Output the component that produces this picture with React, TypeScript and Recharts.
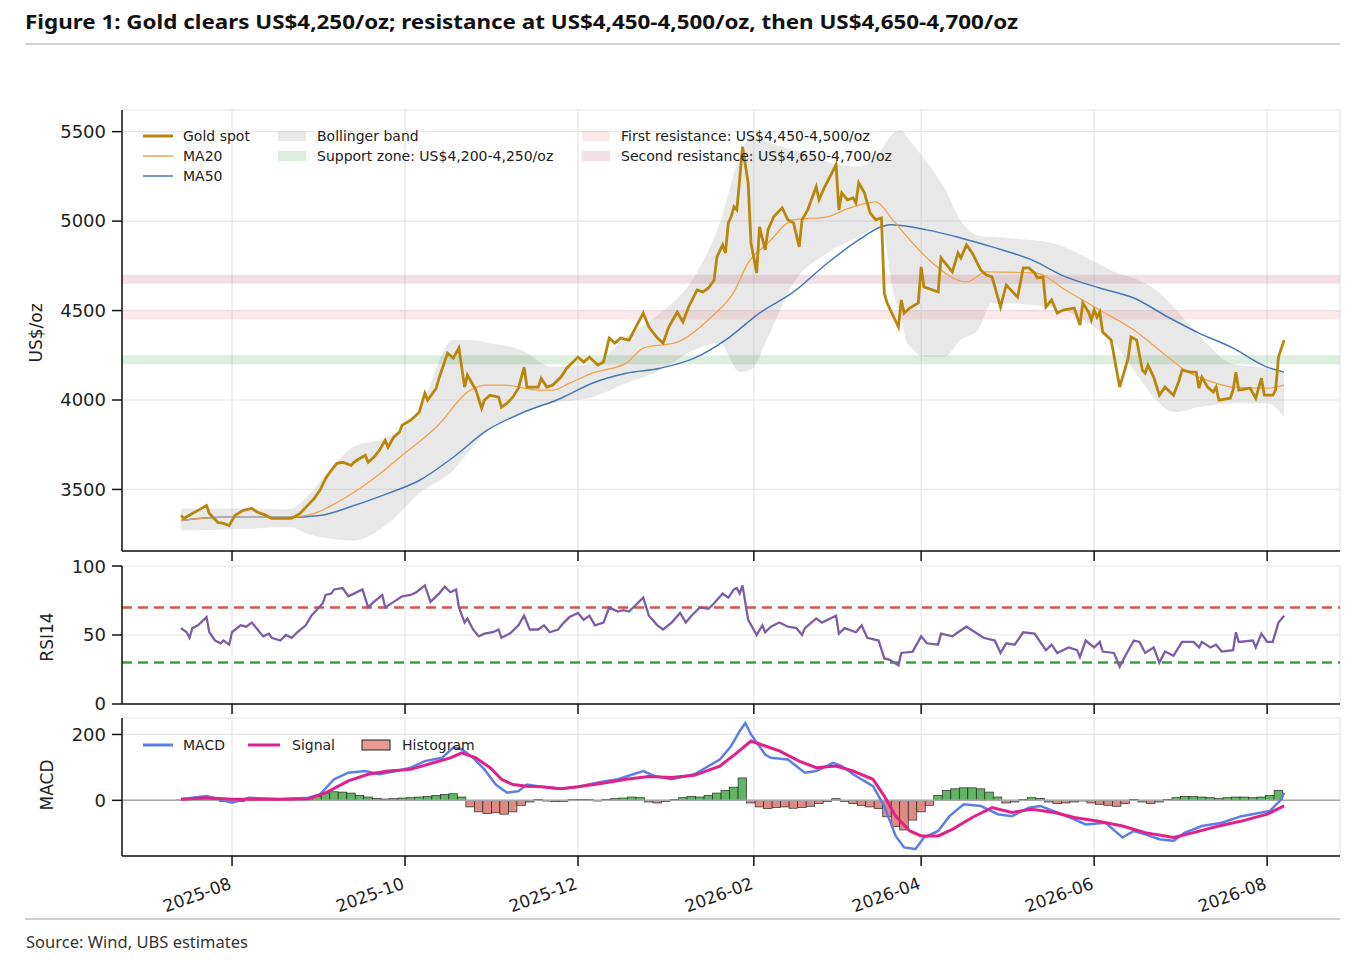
import React from 'react';
import {
  ComposedChart,
  Line,
  Area,
  Bar,
  Cell,
  XAxis,
  YAxis,
  CartesianGrid,
  ReferenceArea,
  ReferenceLine,
} from 'recharts';

// x values are days counted from 2025-07-01
const monthTicks = [31, 92, 153, 215, 274, 335, 396];
const monthLabels = ['2025-08', '2025-10', '2025-12', '2026-02', '2026-04', '2026-06', '2026-08'];
const xDomain: [number, number] = [-7.8, 421.7];

// [day, price]
const goldSpot: [number, number][] = [
  [13, 3355], [14, 3338], [17, 3366], [19, 3383], [22, 3410], [23, 3366], [26, 3315], [28, 3310], [30, 3298],
  [32, 3355], [35, 3383], [38, 3394], [40, 3372], [43, 3355], [45, 3338], [49, 3338], [52, 3338], [55, 3366],
  [57, 3400], [60, 3450], [62, 3495], [64, 3562], [66, 3607], [68, 3646], [70, 3652], [73, 3635], [74, 3652],
  [75, 3663], [78, 3691], [79, 3652], [81, 3680], [83, 3719], [85, 3775], [86, 3736], [88, 3792], [90, 3820],
  [91, 3859], [94, 3887], [97, 3932], [99, 4038], [100, 3999], [103, 4066], [104, 4122], [107, 4262], [109, 4234],
  [111, 4290], [113, 4072], [114, 4139], [117, 4055], [119, 3954], [120, 3999], [122, 4027], [125, 4016], [126, 3960],
  [128, 3982], [130, 4016], [132, 4066], [134, 4184], [135, 4072], [139, 4072], [140, 4122], [142, 4072], [144, 4083],
  [147, 4128], [149, 4178], [153, 4240], [155, 4212], [157, 4240], [160, 4195], [162, 4212], [164, 4346], [166, 4318],
  [168, 4346], [171, 4335], [176, 4486], [178, 4408], [181, 4346], [183, 4318], [185, 4408], [188, 4492], [190, 4436],
  [192, 4520], [195, 4615], [197, 4604], [199, 4626], [201, 4671], [202, 4800], [204, 4867], [205, 4822], [206, 4990],
  [207, 5024], [208, 5080], [209, 5063], [210, 5231], [211, 5416], [213, 5214], [214, 4878], [216, 4710], [217, 4968],
  [219, 4839], [220, 4951], [222, 5024], [225, 5074], [227, 5007], [229, 4990], [231, 4856], [232, 5007], [234, 5063],
  [237, 5192], [238, 5119], [240, 5192], [244, 5315], [245, 5063], [246, 5158], [248, 5119], [250, 5130], [251, 5102],
  [252, 5214], [254, 5158], [256, 5046], [258, 5007], [260, 5018], [261, 4598], [262, 4542], [266, 4408], [267, 4559],
  [268, 4486], [270, 4514], [273, 4542], [274, 4744], [275, 4632], [280, 4604], [281, 4794], [285, 4716], [287, 4822],
  [288, 4794], [290, 4867], [292, 4822], [295, 4727], [297, 4699], [299, 4688], [302, 4520], [304, 4643], [308, 4576],
  [310, 4738], [312, 4738], [314, 4710], [315, 4682], [317, 4688], [318, 4520], [320, 4559], [322, 4486], [324, 4503],
  [328, 4514], [330, 4419], [331, 4542], [333, 4492], [334, 4447], [335, 4503], [336, 4464], [337, 4492], [338, 4380],
  [341, 4335], [344, 4072], [347, 4234], [348, 4352], [350, 4335], [352, 4167], [353, 4150], [354, 4195], [356, 4128],
  [358, 4027], [360, 4072], [363, 4027], [365, 4111], [366, 4167], [369, 4156], [371, 4156], [372, 4066], [373, 4128],
  [375, 4072], [377, 4044], [378, 4072], [379, 3999], [383, 4010], [384, 4055], [385, 4156], [386, 4055], [390, 4066],
  [392, 4010], [394, 4122], [395, 4027], [398, 4027], [399, 4055], [400, 4240], [402, 4335],
];

const ma20: [number, number][] = [
  [13, 3327], [27, 3344], [50, 3344], [60, 3366], [68, 3427], [80, 3550], [91, 3691], [103, 3848], [115, 4055],
  [121, 4083], [127, 4083], [139, 4055], [144, 4055], [150, 4094], [158, 4150], [170, 4206], [176, 4290], [188, 4324],
  [200, 4464], [208, 4604], [213, 4766], [220, 4878], [229, 5007], [241, 5024], [247, 5063], [258, 5108], [264, 5007],
  [270, 4895], [278, 4766], [290, 4660], [297, 4716], [314, 4710], [326, 4604], [337, 4503], [349, 4391], [361, 4240],
  [367, 4167], [378, 4094], [384, 4072], [396, 4066], [402, 4083],
];

const ma50: [number, number][] = [
  [13, 3327], [27, 3344], [50, 3344], [62, 3355], [74, 3410], [86, 3478], [97, 3550], [109, 3680], [121, 3831],
  [133, 3926], [147, 4010], [158, 4094], [170, 4150], [182, 4178], [194, 4234], [205, 4335], [217, 4486], [229, 4604],
  [241, 4766], [252, 4895], [260, 4968], [263, 4979], [276, 4951], [288, 4906], [299, 4856], [313, 4783], [325, 4688],
  [337, 4626], [349, 4570], [361, 4464], [372, 4374], [384, 4290], [396, 4184], [402, 4156],
];

// [day, lower, upper]
const bollinger: [number, number, number][] = [
  [13, 3271, 3394], [37, 3280, 3394], [51, 3290, 3390], [58, 3250, 3470], [66, 3225, 3620], [74, 3215, 3740],
  [86, 3310, 3792], [97, 3478, 3940], [109, 3607, 4335], [115, 3720, 4335], [121, 3831, 4320], [133, 3920, 4279],
  [144, 3982, 4184], [158, 4016, 4200], [170, 4094, 4352], [182, 4167, 4486], [194, 4279, 4688], [203, 4318, 4990],
  [210, 4156, 5360], [214, 4170, 5472], [220, 4352, 5440], [229, 4654, 5400], [241, 4822, 5330], [252, 4912, 5304],
  [260, 4968, 5400], [264, 4615, 5490], [267, 4450, 5511], [269, 4318, 5470], [276, 4240, 5330], [282, 4240, 5190],
  [288, 4335, 5000], [294, 4391, 4920], [299, 4542, 4912], [320, 4520, 4878], [334, 4420, 4783], [343, 4300, 4710],
  [349, 4167, 4680], [358, 3982, 4600], [363, 3932, 4520], [372, 3960, 4360], [384, 3982, 4200], [396, 3982, 4178],
  [402, 3904, 4150],
];

const supportZone: [number, number] = [4200, 4250];
const firstResistance: [number, number] = [4450, 4500];
const secondResistance: [number, number] = [4650, 4700];

const rsi14: [number, number][] = [
  [13, 55], [15, 52], [16, 48], [17, 55], [19, 57], [22, 63], [23, 52], [25, 46], [27, 44], [28, 46], [30, 43],
  [31, 52], [34, 57], [36, 56], [38, 59], [40, 54], [42, 49], [44, 51], [45, 48], [48, 46], [50, 50], [52, 48],
  [54, 52], [57, 57], [59, 64], [63, 73], [64, 79], [66, 80], [67, 83], [70, 84], [72, 78], [74, 80], [77, 83],
  [79, 70], [81, 74], [84, 79], [85, 70], [88, 74], [91, 78], [94, 79], [96, 81], [99, 86], [101, 74], [104, 80],
  [106, 85], [108, 81], [110, 83], [111, 70], [113, 59], [114, 62], [116, 54], [118, 49], [120, 51], [123, 52],
  [125, 54], [126, 48], [129, 51], [132, 57], [134, 64], [136, 54], [139, 54], [141, 57], [143, 52], [146, 54],
  [148, 59], [150, 63], [153, 66], [155, 61], [157, 64], [159, 57], [162, 59], [164, 70], [167, 67], [169, 68],
  [171, 67], [176, 77], [178, 64], [181, 57], [183, 54], [186, 59], [189, 66], [191, 59], [193, 64], [196, 70],
  [199, 69], [201, 73], [204, 80], [206, 77], [208, 83], [209, 84], [210, 80], [211, 86], [213, 61], [216, 50],
  [218, 57], [219, 52], [221, 56], [224, 59], [227, 56], [230, 55], [232, 50], [233, 55], [237, 62], [239, 59],
  [244, 64], [245, 51], [247, 55], [251, 52], [253, 57], [255, 48], [259, 46], [261, 33], [263, 32], [266, 28],
  [267, 37], [271, 38], [274, 49], [276, 44], [280, 43], [281, 51], [285, 49], [287, 52], [290, 56], [296, 48],
  [300, 46], [302, 37], [304, 44], [307, 43], [310, 52], [314, 51], [318, 39], [320, 43], [322, 37], [326, 41],
  [329, 39], [330, 34], [332, 46], [335, 41], [337, 45], [338, 38], [342, 37], [344, 27], [346, 35], [349, 46],
  [351, 45], [353, 37], [356, 41], [358, 30], [360, 38], [363, 35], [366, 45], [370, 45], [372, 41], [373, 45],
  [376, 41], [378, 43], [380, 38], [384, 39], [385, 52], [386, 45], [391, 46], [392, 41], [394, 51], [396, 45],
  [398, 45], [400, 59], [402, 64],
];

const macdLine: [number, number][] = [
  [13, 3], [22, 13], [31, -7], [37, 8], [48, 3], [58, 8], [62, 18], [67, 64], [72, 84], [78, 89], [83, 79], [89, 89],
  [94, 99], [99, 119], [105, 129], [109, 160], [112, 155], [116, 129], [120, 94], [124, 48], [128, 23], [132, 28],
  [135, 48], [140, 41], [147, 35], [153, 41], [160, 54], [167, 64], [176, 89], [180, 74], [186, 64], [194, 79],
  [198, 99], [203, 124], [207, 165], [210, 210], [212, 235], [214, 200], [219, 139], [221, 129], [227, 124], [233, 84],
  [237, 89], [243, 114], [246, 104], [250, 79], [257, 43], [261, -17], [265, -108], [268, -143], [272, -148],
  [275, -113], [280, -93], [284, -48], [289, -12], [295, -17], [301, -42], [306, -48], [312, -22], [316, -17],
  [322, -37], [328, -58], [332, -73], [339, -68], [345, -113], [349, -93], [353, -103], [358, -118], [363, -123],
  [367, -98], [373, -78], [380, -68], [387, -48], [397, -32], [401, 3], [402, 23],
];

const signalLine: [number, number][] = [
  [13, 3], [22, 8], [31, 3], [39, 3], [48, 3], [58, 5], [64, 23], [72, 59], [79, 79], [86, 89], [94, 94], [102, 114],
  [108, 129], [112, 144], [117, 129], [122, 99], [126, 64], [130, 48], [135, 43], [140, 41], [147, 35], [153, 41],
  [161, 51], [170, 64], [178, 72], [186, 69], [194, 76], [203, 104], [209, 144], [214, 180], [219, 165], [224, 150],
  [231, 119], [237, 99], [244, 104], [250, 89], [257, 64], [261, 13], [265, -48], [270, -93], [274, -108],
  [280, -108], [285, -88], [292, -52], [299, -22], [306, -37], [313, -27], [321, -37], [328, -52], [336, -63],
  [345, -78], [353, -98], [363, -113], [370, -98], [379, -78], [387, -63], [396, -42], [402, -17],
];

// histogram, one bar every 3 days starting day 13
const histStart = 13;
const histStep = 3;
const histValues = [
  1, 3, 4, 5, 2, -3, -6, -3, 2, 3, 2, 0, 1, 2, 3, 5, 12, 22, 26, 25, 22, 15, 10, 6, 4, 5, 7, 8, 10, 12, 15, 18, 20,
  10, -20, -35, -40, -38, -42, -35, -15, -5, 3, -2, -4, -3, 2, 3, 2, -2, 3, 5, 7, 10, 8, -5, -8, -3, 2, 8, 12, 10,
  15, 22, 30, 40, 68, -8, -20, -25, -22, -20, -24, -22, -18, -10, -3, 5, -3, -10, -15, -20, -25, -50, -80, -90, -60,
  -35, -15, 15, 30, 35, 38, 38, 35, 25, 10, -8, -5, 3, 8, 6, -5, -10, -8, -5, -2, -8, -12, -15, -18, -10, 3, -5,
  -10, -5, 3, 8, 12, 12, 10, 8, 5, 8, 10, 10, 8, 10, 15, 30,
];

const toPoints = (rows: [number, number][]) => rows.map(([d, v]) => ({ d, v }));
const goldData = toPoints(goldSpot);
const ma20Data = toPoints(ma20);
const ma50Data = toPoints(ma50);
const bandData = bollinger.map(([d, lo, up]) => ({ d, band: [lo, up] }));
const rsiData = toPoints(rsi14);
const macdData = toPoints(macdLine);
const signalData = toPoints(signalLine);
const histData = histValues.map((h, i) => ({ d: histStart + i * histStep, h }));

const GOLD = '#b8860b';
const MA20C = '#f2a24b';
const MA50C = '#4878b4';
const BANDC = '#bdbdbd';
const GREENZ = '#3c9a3c';
const PINK1 = '#ef7f7f';
const PINK2 = '#b86b77';
const RSIC = '#7b5ea7';
const MACDC = '#5b7fe6';
const SIGC = '#e0218a';

const FONT = 'DejaVu Sans';
const axisStroke = { stroke: '#111', strokeWidth: 1.5 };
const yTick = { fontSize: 18, fill: '#222', fontFamily: FONT };
const gridStroke = '#e6e6ec';

// one step of 3 days on the x scale, in px
const HIST_W = 8.5;

const noLabel = () => <g />;

const RotatedTick = (props: any) => {
  const { x, y, payload } = props;
  const label = monthLabels[monthTicks.indexOf(payload.value)] ?? '';
  const px = x - 4;
  const py = y + 8;
  return (
    <text
      x={px}
      y={py}
      dy={13}
      textAnchor="end"
      fontSize={17}
      fill="#222"
      fontFamily={FONT}
      transform={`rotate(-20, ${px}, ${py})`}
    >
      {label}
    </text>
  );
};

// the bar band on a numeric axis gets squeezed by the daily lines, so draw at a fixed width
const HistBar = (props: any) => {
  const { x, y, width, height, fill } = props;
  if (x == null || y == null) return <g />;
  const cx = x + (width || 0) / 2;
  const top = Math.min(y, y + height);
  const h = Math.abs(height);
  return <rect x={cx - HIST_W / 2} y={top} width={HIST_W} height={h} fill={fill} stroke="#2a2a2a" strokeWidth={0.7} />;
};

const chartMargin = (top: number) => ({ top, right: 25, bottom: 0, left: 62 });

const App: React.FC = () => {
  return (
    <div style={{ position: 'absolute', left: 0, top: 0, width: 1365, height: 974, background: '#fff', fontFamily: FONT }}>
      {/* price panel */}
      <div style={{ position: 'absolute', left: 0, top: 0 }}>
        <ComposedChart width={1365} height={570} data={bandData} margin={chartMargin(110)}>
          <CartesianGrid stroke={gridStroke} strokeWidth={1.2} />
          <XAxis
            dataKey="d"
            type="number"
            domain={xDomain}
            ticks={monthTicks}
            allowDataOverflow
            height={19}
            tick={noLabel}
            tickSize={10}
            axisLine={axisStroke}
            tickLine={axisStroke}
          />
          <YAxis
            type="number"
            domain={[3156, 5621]}
            ticks={[3500, 4000, 4500, 5000, 5500]}
            allowDataOverflow
            width={60}
            tick={yTick}
            tickSize={10}
            tickMargin={6}
            axisLine={axisStroke}
            tickLine={axisStroke}
          />
          <Area dataKey="band" type="monotone" stroke="none" fill={BANDC} fillOpacity={0.35} isAnimationActive={false} />
          <ReferenceArea y1={supportZone[0]} y2={supportZone[1]} fill={GREENZ} fillOpacity={0.17} stroke="none" />
          <ReferenceArea y1={firstResistance[0]} y2={firstResistance[1]} fill={PINK1} fillOpacity={0.17} stroke="none" />
          <ReferenceArea y1={secondResistance[0]} y2={secondResistance[1]} fill={PINK2} fillOpacity={0.2} stroke="none" />
          <Line data={ma50Data} dataKey="v" type="monotone" stroke={MA50C} strokeWidth={1.5} dot={false} activeDot={false} isAnimationActive={false} />
          <Line data={ma20Data} dataKey="v" type="monotone" stroke={MA20C} strokeWidth={1.3} dot={false} activeDot={false} isAnimationActive={false} />
          <Line data={goldData} dataKey="v" type="linear" stroke={GOLD} strokeWidth={2.8} dot={false} activeDot={false} isAnimationActive={false} />
        </ComposedChart>
      </div>

      {/* RSI panel */}
      <div style={{ position: 'absolute', left: 0, top: 556 }}>
        <ComposedChart width={1365} height={160} data={rsiData} margin={chartMargin(10)}>
          <CartesianGrid stroke={gridStroke} strokeWidth={1.2} />
          <XAxis
            dataKey="d"
            type="number"
            domain={xDomain}
            ticks={monthTicks}
            allowDataOverflow
            height={12}
            tick={noLabel}
            tickSize={10}
            axisLine={axisStroke}
            tickLine={axisStroke}
          />
          <YAxis
            type="number"
            domain={[0, 100]}
            ticks={[0, 50, 100]}
            width={60}
            tick={yTick}
            tickSize={10}
            tickMargin={6}
            axisLine={axisStroke}
            tickLine={axisStroke}
          />
          <ReferenceLine y={70} stroke="#d9534f" strokeWidth={2.5} strokeDasharray="10 6" />
          <ReferenceLine y={30} stroke="#3f9f3f" strokeWidth={2.5} strokeDasharray="10 6" />
          <Line dataKey="v" type="linear" stroke={RSIC} strokeWidth={2.3} dot={false} activeDot={false} isAnimationActive={false} />
        </ComposedChart>
      </div>

      {/* MACD panel */}
      <div style={{ position: 'absolute', left: 0, top: 708 }}>
        <ComposedChart width={1365} height={216} data={histData} margin={chartMargin(10)}>
          <CartesianGrid stroke={gridStroke} strokeWidth={1.2} />
          <XAxis
            dataKey="d"
            type="number"
            domain={xDomain}
            ticks={monthTicks}
            allowDataOverflow
            height={68}
            tick={RotatedTick}
            tickSize={10}
            axisLine={axisStroke}
            tickLine={axisStroke}
          />
          <YAxis
            type="number"
            domain={[-169, 250]}
            ticks={[0, 200]}
            allowDataOverflow
            width={60}
            tick={yTick}
            tickSize={10}
            tickMargin={6}
            axisLine={axisStroke}
            tickLine={axisStroke}
          />
          <ReferenceLine y={0} stroke="#a8a8a8" strokeWidth={1.5} />
          <Bar dataKey="h" shape={HistBar} isAnimationActive={false}>
            {histData.map((row, i) => (
              <Cell key={`h-${i}`} fill={row.h >= 0 ? '#62b562' : '#e08a84'} />
            ))}
          </Bar>
          <Line data={macdData} dataKey="v" type="linear" stroke={MACDC} strokeWidth={2.5} dot={false} activeDot={false} isAnimationActive={false} />
          <Line data={signalData} dataKey="v" type="linear" stroke={SIGC} strokeWidth={3} dot={false} activeDot={false} isAnimationActive={false} />
        </ComposedChart>
      </div>

      {/* titles, labels, legends */}
      <svg width={1365} height={974} style={{ position: 'absolute', left: 0, top: 0, pointerEvents: 'none' }}>
        <text x={25} y={29} fontSize={19} fontWeight={700} fontFamily="Noto Sans" fill="#111" textLength={993} lengthAdjust="spacingAndGlyphs">
          Figure 1: Gold clears US$4,250/oz; resistance at US$4,450-4,500/oz, then US$4,650-4,700/oz
        </text>
        <line x1={25} x2={1340} y1={44} y2={44} stroke="#d0d0d0" strokeWidth={2} />
        <line x1={25} x2={1340} y1={919} y2={919} stroke="#d0d0d0" strokeWidth={2} />
        <text x={26} y={948} fontSize={17} fontFamily="Noto Sans" fill="#333" textLength={222} lengthAdjust="spacingAndGlyphs">
          Source: Wind, UBS estimates
        </text>

        <text transform="translate(42,333) rotate(-90)" textAnchor="middle" fontSize={17} fontFamily={FONT} fill="#222">US$/oz</text>
        <text transform="translate(53,637) rotate(-90)" textAnchor="middle" fontSize={17} fontFamily={FONT} fill="#222">RSI14</text>
        <text transform="translate(53,785) rotate(-90)" textAnchor="middle" fontSize={17} fontFamily={FONT} fill="#222">MACD</text>

        <g fontSize={14} fontFamily={FONT} fill="#222">
          <line x1={143} x2={173} y1={136} y2={136} stroke={GOLD} strokeWidth={3} />
          <text x={183} y={141}>Gold spot</text>
          <line x1={143} x2={173} y1={156} y2={156} stroke={MA20C} strokeWidth={1.5} />
          <text x={183} y={161}>MA20</text>
          <line x1={143} x2={173} y1={176} y2={176} stroke={MA50C} strokeWidth={1.5} />
          <text x={183} y={181}>MA50</text>

          <rect x={278} y={131} width={28} height={10} fill={BANDC} fillOpacity={0.35} />
          <text x={317} y={141}>Bollinger band</text>
          <rect x={278} y={151} width={28} height={10} fill={GREENZ} fillOpacity={0.17} />
          <text x={317} y={161}>Support zone: US$4,200-4,250/oz</text>

          <rect x={582} y={131} width={28} height={10} fill={PINK1} fillOpacity={0.17} />
          <text x={621} y={141}>First resistance: US$4,450-4,500/oz</text>
          <rect x={582} y={151} width={28} height={10} fill={PINK2} fillOpacity={0.2} />
          <text x={621} y={161}>Second resistance: US$4,650-4,700/oz</text>

          <line x1={143} x2={173} y1={745} y2={745} stroke={MACDC} strokeWidth={3} />
          <text x={183} y={750}>MACD</text>
          <line x1={248} x2={280} y1={745} y2={745} stroke={SIGC} strokeWidth={3} />
          <text x={292} y={750}>Signal</text>
          <rect x={362} y={740} width={28} height={10} fill="#e89a94" stroke="#222" strokeWidth={1} />
          <text x={402} y={750}>Histogram</text>
        </g>
      </svg>
    </div>
  );
};

export default App;
